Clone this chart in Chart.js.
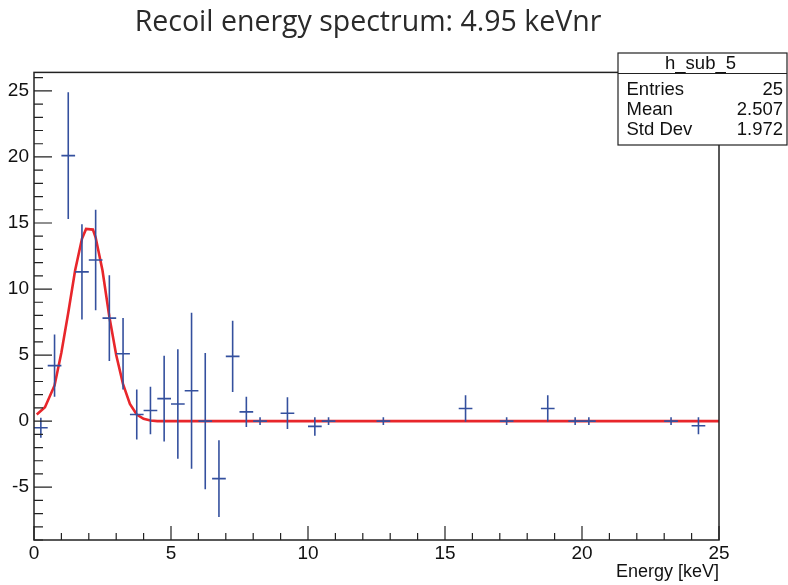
<!DOCTYPE html>
<html>
<head>
<meta charset="utf-8">
<script src="https://cdn.jsdelivr.net/npm/chart.js@4.4.0/dist/chart.umd.min.js"></script>
<style>
  html, body { margin: 0; padding: 0; background: #fff; }
  canvas { display: block; }
</style>
</head>
<body>
<canvas id="c" width="788" height="585"></canvas>
<script>
// Histogram: bin centres (keV), contents and their errors
const binCenters = [0.25, 0.75, 1.25, 1.75, 2.25, 2.75, 3.25, 3.75, 4.25, 4.75, 5.25, 5.75, 6.25, 6.75,
                    7.25, 7.75, 8.25, 9.25, 10.25, 10.75, 12.75, 15.75, 17.25, 18.75, 19.75, 20.25, 23.25, 24.25];
const binHalfWidth = 0.25;
const counts = [-0.5, 4.2, 20.1, 11.3, 12.2, 7.8, 5.1, 0.5, 0.8, 1.7, 1.3, 2.3, 0, -4.35,
                4.9, 0.7, 0, 0.6, -0.4, 0, 0, 0.95, 0, 0.95, 0, 0, 0, -0.35];
const errors = [0.75, 2.35, 4.8, 3.6, 3.8, 3.25, 2.7, 1.9, 1.8, 3.25, 4.15, 5.9, 5.15, 2.9,
                2.7, 1.15, 0.3, 1.2, 0.7, 0.3, 0.3, 1.0, 0.3, 1.0, 0.3, 0.3, 0.3, 0.65];

// Gaussian fit curve, sampled vertices
const fitX = [0.1, 0.4, 0.75, 1.0, 1.25, 1.5, 1.75, 1.9, 2.15, 2.25, 2.5, 2.75, 3.0, 3.25, 3.5, 3.75, 4.0, 4.25, 4.5, 5.0, 25];
const fitY = [0.5, 1.05, 2.7, 5.2, 8.2, 11.4, 13.8, 14.55, 14.5, 13.9, 11.4, 7.9, 5.0, 2.8, 1.3, 0.5, 0.18, 0.05, 0, 0, 0];

// Axes
const xTicks = [0, 5, 10, 15, 20, 25];
const yTicks = [-5, 0, 5, 10, 15, 20, 25];
const xRange = [0, 25];
const yRange = [-9, 26.4];

// Titles and statistics box
const chartTitle = 'Recoil energy spectrum: 4.95 keVnr';
const xTitle = 'Energy [keV]';
const histName = 'h_sub_5';
const statsLabels = ['Entries', 'Mean', 'Std Dev'];
const statsValues = ['25', '2.507', '1.972'];

const BLUE = '#34509e';
const RED = '#e8262b';
const FONT = "'Liberation Sans', Arial, sans-serif";

const errYData = [];
const errXData = [];
binCenters.forEach((c, i) => {
  errYData.push({x: c, y: counts[i] - errors[i]}, {x: c, y: counts[i] + errors[i]}, {x: c, y: null});
  errXData.push({x: c - binHalfWidth, y: counts[i]}, {x: c + binHalfWidth, y: counts[i]}, {x: c, y: null});
});
const fitData = fitX.map((x, i) => ({x, y: fitY[i]}));

// Page title, frame box, inward tick marks and the statistics panel
const rootFrame = {
  id: 'rootFrame',
  afterDraw(chart) {
    const ctx = chart.ctx;
    const a = chart.chartArea;
    const xs = chart.scales.x, ys = chart.scales.y;
    ctx.save();

    ctx.fillStyle = '#2a2a2a';
    ctx.font = "400 28.5px 'Open Sans', Lato, sans-serif";
    ctx.textAlign = 'center';
    ctx.textBaseline = 'alphabetic';
    ctx.fillText(chartTitle, 368, 31);

    ctx.strokeStyle = '#222';
    ctx.lineWidth = 1.5;
    ctx.strokeRect(a.left, a.top, a.right - a.left, a.bottom - a.top);

    ctx.lineWidth = 1.2;
    ctx.beginPath();
    for (let v = Math.ceil(ys.min); v <= ys.max; v += 1) {
      const y = ys.getPixelForValue(v);
      const len = yTicks.includes(v) ? 18 : 9;
      ctx.moveTo(a.left, y); ctx.lineTo(a.left + len, y);
    }
    for (let v = Math.ceil(xs.min); v <= xs.max; v += 1) {
      const x = xs.getPixelForValue(v);
      const len = xTicks.includes(v) ? 14 : 7;
      ctx.moveTo(x, a.bottom); ctx.lineTo(x, a.bottom - len);
    }
    ctx.stroke();

    // statistics panel
    const bx = 618, by = 53, bw = 169, bh = 92, head = 20.5;
    ctx.fillStyle = '#fff';
    ctx.fillRect(bx, by, bw, bh);
    ctx.strokeStyle = '#222';
    ctx.lineWidth = 1.2;
    ctx.strokeRect(bx, by, bw, bh);
    ctx.beginPath();
    ctx.moveTo(bx, by + head); ctx.lineTo(bx + bw, by + head);
    ctx.stroke();
    ctx.fillStyle = '#111';
    ctx.font = '18.5px ' + FONT;
    ctx.textAlign = 'center';
    ctx.fillText(histName, bx + bw / 2 - 2, by + 16);
    statsLabels.forEach((lab, i) => {
      const base = by + 41.5 + i * 20;
      ctx.textAlign = 'left';
      ctx.fillText(lab, bx + 8.5, base);
      ctx.textAlign = 'right';
      ctx.fillText(statsValues[i], bx + bw - 4, base);
    });
    ctx.restore();
  }
};

new Chart(document.getElementById('c'), {
  type: 'scatter',
  data: {
    datasets: [
      {data: errYData, showLine: true, spanGaps: false, borderColor: BLUE, borderWidth: 1.6, pointRadius: 0},
      {data: errXData, showLine: true, spanGaps: false, borderColor: BLUE, borderWidth: 1.6, pointRadius: 0},
      {data: fitData, showLine: true, borderColor: RED, borderWidth: 2.6, pointRadius: 0, tension: 0}
    ]
  },
  options: {
    responsive: false,
    animation: false,
    devicePixelRatio: 1,
    layout: {padding: {top: 72.4, right: 69, left: 0, bottom: 0}},
    plugins: {
      legend: {display: false},
      tooltip: {enabled: false},
      title: {display: false}
    },
    scales: {
      x: {
        type: 'linear', min: xRange[0], max: xRange[1],
        afterBuildTicks: s => { s.ticks = xTicks.map(v => ({value: v})); },
        afterFit: s => { s.height = 45; },
        grid: {display: false, drawTicks: false},
        border: {display: false},
        ticks: {padding: 2, color: '#111', font: {family: FONT, size: 19}, maxRotation: 0, autoSkip: false},
        title: {display: true, text: xTitle, align: 'end', color: '#111',
                font: {family: FONT, size: 18}, padding: {top: 0, bottom: 2}}
      },
      y: {
        type: 'linear', min: yRange[0], max: yRange[1],
        afterBuildTicks: s => { s.ticks = yTicks.map(v => ({value: v})); },
        afterFit: s => { s.width = 34; },
        grid: {display: false, drawTicks: false},
        border: {display: false},
        ticks: {padding: 5, color: '#111', font: {family: FONT, size: 19}, autoSkip: false}
      }
    }
  },
  plugins: [rootFrame]
});
</script>
</body>
</html>
